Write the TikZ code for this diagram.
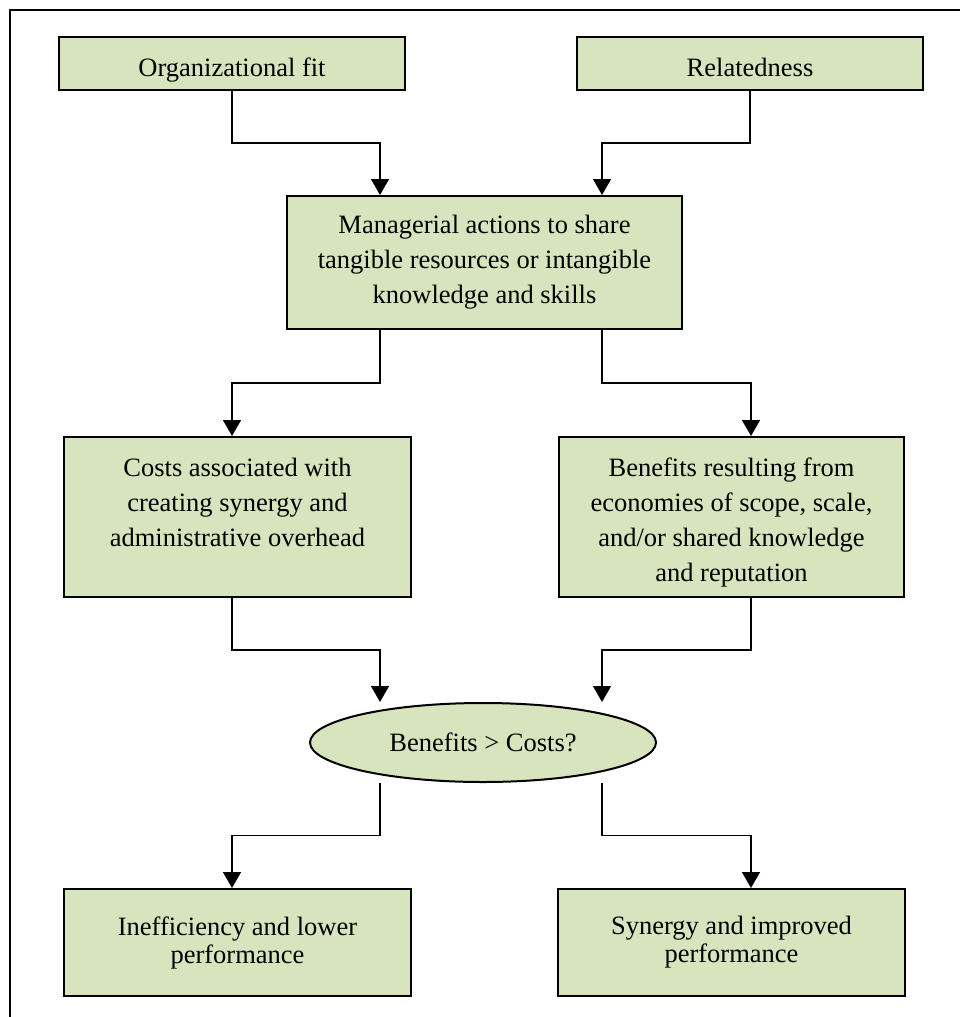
\documentclass[tikz,border=0pt]{standalone}
\usepackage{fontspec}
\setmainfont{Liberation Serif}
\usetikzlibrary{shapes.geometric,arrows.meta,calc}
\definecolor{boxgreen}{HTML}{D7E4BD}
\begin{document}
\begin{tikzpicture}[x=1pt,y=-1pt,
  every node/.style={font=\fontsize{26.5}{35}\selectfont, inner sep=0pt},
  box/.style={draw=black, fill=boxgreen, line width=2pt, align=center},
  topbox/.style={box, minimum width=346pt, minimum height=53pt, text height=27pt, text depth=2pt},
  midbox/.style={box, minimum height=160pt},
  lowbox/.style={box, minimum width=347pt, minimum height=107pt, font=\fontsize{26.5}{28}\selectfont},
  arr/.style={line width=1.5pt, -{Triangle[width=18pt,length=16pt]}}]

\clip (0,0) rectangle (960,1017);

% outer frame (runs off the right and bottom edges)
\draw[line width=2pt] (10,1040) -- (10,10) -- (980,10);

% connector columns
\coordinate (oL) at (232,0);
\coordinate (oR) at (751,0);
\coordinate (cL) at (380,0);
\coordinate (cR) at (602,0);

% boxes
\node[topbox] (orgfit)  at (232,63.5) {Organizational fit};
\node[topbox] (related) at (750,63.5) {Relatedness};

\node[box, minimum width=395pt, minimum height=133pt] (manage) at (484.5,262.5)
  {Managerial actions to share\\tangible resources or intangible\\knowledge and skills};

\node[midbox, minimum width=347pt] (costs) at (237.5,517)
  {\parbox[c][140pt][t]{330pt}{\vspace*{11pt}\centering Costs associated with\\creating synergy and\\administrative overhead}};
\node[midbox, minimum width=345pt] (benef) at (731.5,517)
  {\parbox[c][140pt][t]{330pt}{\vspace*{11pt}\centering Benefits resulting from\\economies of scope, scale,\\and/or shared knowledge\\and reputation}};

\node[box, ellipse, minimum width=346pt, minimum height=79pt] (dec) at (483,742.5) {Benefits > Costs?};

\node[lowbox] (ineff) at (237.5,942.5) {Inefficiency and lower\\performance};
\node[lowbox] (syn)   at (731.5,942.5) {Synergy and improved\\performance};

% end points of the connectors
\coordinate (mL) at (manage.north -| cL);
\coordinate (mR) at (manage.north -| cR);
\coordinate (msL) at (manage.south -| cL);
\coordinate (msR) at (manage.south -| cR);
\coordinate (cN) at (costs.north -| oL);
\coordinate (bN) at (benef.north -| oR);
\coordinate (cS) at (costs.south -| oL);
\coordinate (bS) at (benef.south -| oR);
\coordinate (dNL) at (dec.north -| cL);
\coordinate (dNR) at (dec.north -| cR);
\coordinate (dSL) at (dec.south -| cL);
\coordinate (dSR) at (dec.south -| cR);
\coordinate (iN) at (ineff.north -| oL);
\coordinate (sN) at (syn.north -| oR);

% connectors
\draw[arr] (orgfit.south) |- ($(orgfit.south)!.5!(mL)$) -| (mL);
\draw[arr] (related.south) |- ($(related.south)!.5!(mR)$) -| (mR);
\draw[arr] (msL) |- ($(msL)!.5!(cN)$) -| (cN);
\draw[arr] (msR) |- ($(msR)!.5!(bN)$) -| (bN);
\draw[arr] (cS) |- ($(cS)!.5!(dNL)$) -| (dNL);
\draw[arr] (bS) |- ($(bS)!.5!(dNR)$) -| (dNR);
\draw[arr] (dSL) |- ($(dSL)!.5!(iN)$) -| (iN);
\draw[arr] (dSR) |- ($(dSR)!.5!(sN)$) -| (sN);
\end{tikzpicture}
\end{document}
